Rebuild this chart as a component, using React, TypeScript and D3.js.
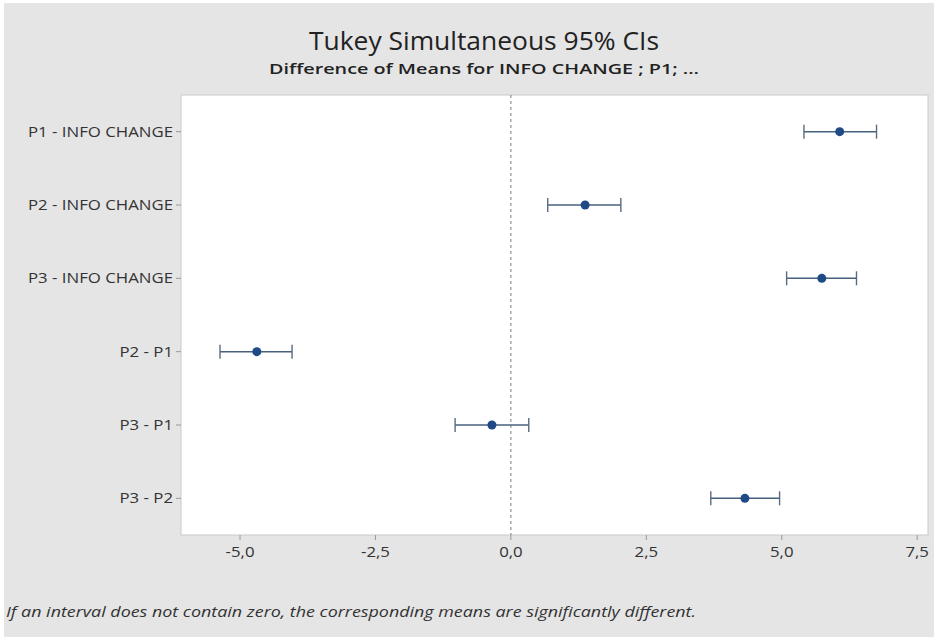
import * as d3 from 'd3';

const comparisons = ['P1 - INFO CHANGE', 'P2 - INFO CHANGE', 'P3 - INFO CHANGE', 'P2 - P1', 'P3 - P1', 'P3 - P2'];
const diffs = [6.07, 1.37, 5.74, -4.69, -0.35, 4.32];
const lowers = [5.41, 0.68, 5.09, -5.37, -1.03, 3.69];
const uppers = [6.75, 2.03, 6.38, -4.04, 0.33, 4.96];
const xTicks = [-5, -2.5, 0, 2.5, 5, 7.5];

const W = 934;
const H = 637;
const plot = { left: 181, right: 928, top: 95, bottom: 535 };
const font = '"Open Sans", "Noto Sans", sans-serif';
const stretch = 1.2; // the source image is a bit wider than tall

export default function App() {
  const x = d3.scaleLinear().domain([-6.09, 7.7]).range([plot.left, plot.right]);
  const y = d3.scalePoint().domain(comparisons).range([plot.top, plot.bottom]).padding(0.5);
  const fmt = (v) => d3.format('.1f')(v).replace('.', ',').replace('−', '-');

  return (
    <div style={{ position: 'absolute', left: 0, top: 0 }}>
      <svg width={W} height={H} style={{ display: 'block' }}>
        <rect x={0} y={0} width={W} height={H} fill="#ffffff" />
        <rect x={4} y={3} width={W - 4} height={H - 3} fill="#e5e5e5" />

        <text
          x={484}
          y={50}
          textAnchor="middle"
          fontFamily={font}
          fontSize={25}
          fill="#222"
          textLength={350}
          lengthAdjust="spacingAndGlyphs"
        >
          Tukey Simultaneous 95% CIs
        </text>
        <text
          x={484}
          y={74}
          textAnchor="middle"
          fontFamily={font}
          fontSize={15}
          fontWeight={600}
          fill="#222"
          textLength={430}
          lengthAdjust="spacingAndGlyphs"
        >
          Difference of Means for INFO CHANGE ; P1; ...
        </text>

        <rect
          x={plot.left}
          y={plot.top}
          width={plot.right - plot.left}
          height={plot.bottom - plot.top}
          fill="#ffffff"
          stroke="#c9c9c9"
          strokeWidth={1}
        />

        <line x1={x(0)} x2={x(0)} y1={plot.top} y2={plot.bottom} stroke="#7a7a7a" strokeDasharray="3,3" />

        {comparisons.map((c) => (
          <g key={c}>
            <line x1={plot.left - 5} x2={plot.left} y1={y(c)} y2={y(c)} stroke="#9a9a9a" />
            <text
              transform={`translate(${plot.left - 8},${y(c)}) scale(${stretch},1)`}
              dy="0.35em"
              textAnchor="end"
              fontFamily={font}
              fontSize={14}
              fill="#333"
            >
              {c}
            </text>
          </g>
        ))}

        {xTicks.map((t) => (
          <g key={t}>
            <line x1={x(t)} x2={x(t)} y1={plot.bottom} y2={plot.bottom + 5} stroke="#9a9a9a" />
            <text
              transform={`translate(${x(t)},${plot.bottom + 22}) scale(${stretch},1)`}
              textAnchor="middle"
              fontFamily={font}
              fontSize={14}
              fill="#333"
            >
              {fmt(t)}
            </text>
          </g>
        ))}

        {comparisons.map((c, i) => {
          const cy = y(c);
          return (
            <g key={'ci' + c}>
              <line x1={x(lowers[i])} x2={x(uppers[i])} y1={cy} y2={cy} stroke="#47607f" strokeWidth={1.5} />
              <line x1={x(lowers[i])} x2={x(lowers[i])} y1={cy - 7} y2={cy + 7} stroke="#5a6a80" strokeWidth={1.4} />
              <line x1={x(uppers[i])} x2={x(uppers[i])} y1={cy - 7} y2={cy + 7} stroke="#5a6a80" strokeWidth={1.4} />
              <circle cx={x(diffs[i])} cy={cy} r={4.5} fill="#1f4a86" />
            </g>
          );
        })}

        <text
          x={6}
          y={617}
          fontFamily={font}
          fontSize={14}
          fontStyle="italic"
          fill="#333"
          textLength={690}
          lengthAdjust="spacingAndGlyphs"
        >
          If an interval does not contain zero, the corresponding means are significantly different.
        </text>
      </svg>
    </div>
  );
}
